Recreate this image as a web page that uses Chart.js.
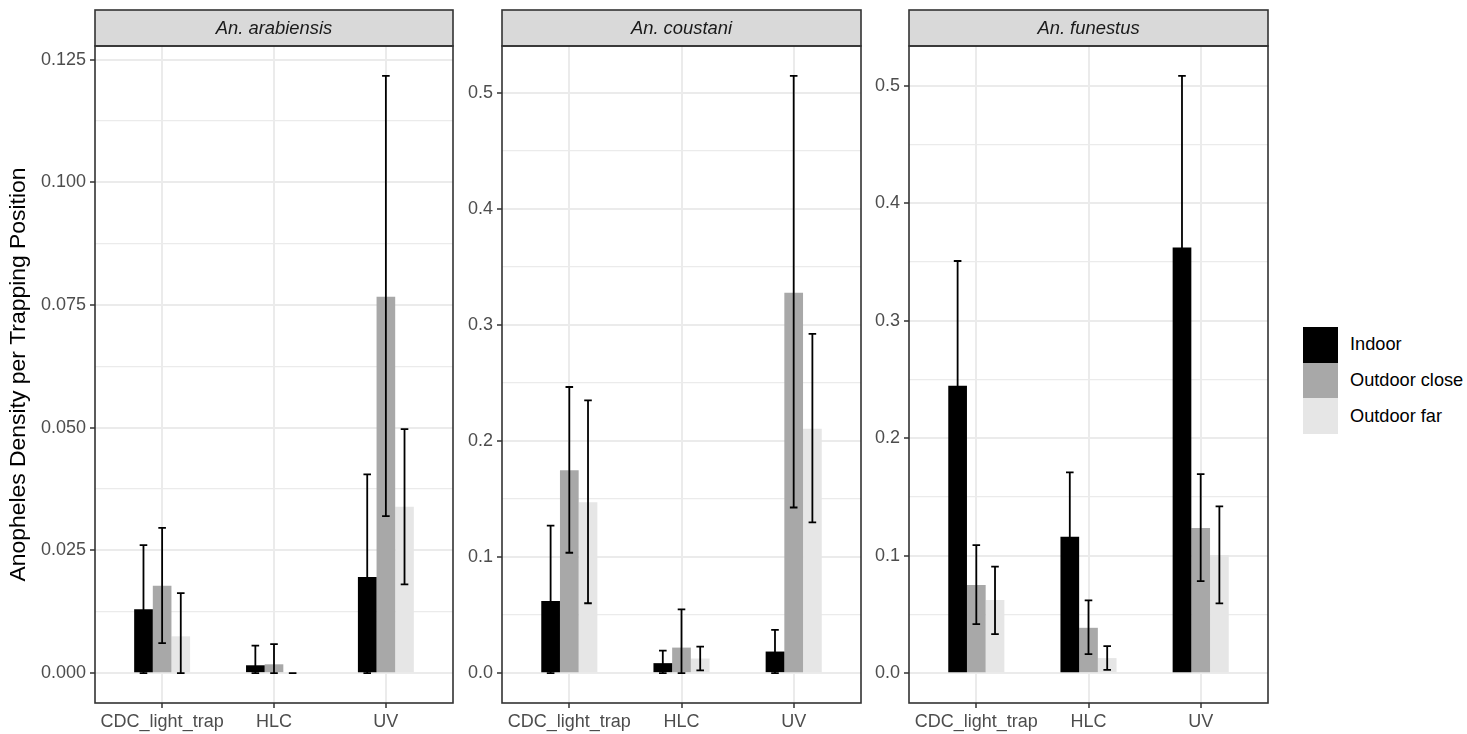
<!DOCTYPE html>
<html><head><meta charset="utf-8">
<script src="https://cdn.jsdelivr.net/npm/chart.js@4.4.0/dist/chart.umd.min.js"></script>
<style>
html,body{margin:0;padding:0;background:#fff;width:1467px;height:734px;overflow:hidden;}
canvas{position:absolute;top:0;}
#legend{position:absolute;left:1303px;top:327px;font-family:'Liberation Sans',Arial,sans-serif;font-size:18.2px;color:#000;}
.item{display:flex;align-items:center;height:35.7px;}
.key{width:35px;height:35.7px;margin-right:12px;}
</style></head>
<body>
<canvas id="c1" width="462" height="734" style="left:0px"></canvas>
<canvas id="c2" width="404" height="734" style="left:462px"></canvas>
<canvas id="c3" width="410" height="734" style="left:866px"></canvas>
<div id="legend"></div>
<script>
const categories = ['CDC_light_trap', 'HLC', 'UV'];
const seriesNames = ['Indoor', 'Outdoor close', 'Outdoor far'];
const seriesColors = ['#000000', '#A8A8A8', '#E6E6E6'];
const species = ['An. arabiensis', 'An. coustani', 'An. funestus'];
const yTitle = 'Anopheles Density per Trapping Position';

// An. arabiensis
const arabIndoor   = [0.0130, 0.0016, 0.0196];
const arabIndoorLo = [0.0000, 0.0000, 0.0000];
const arabIndoorHi = [0.0261, 0.0056, 0.0405];
const arabClose    = [0.0178, 0.0018, 0.0767];
const arabCloseLo  = [0.0061, 0.0000, 0.0320];
const arabCloseHi  = [0.0296, 0.0059, 0.1217];
const arabFar      = [0.0075, 0.0000, 0.0339];
const arabFarLo    = [0.0000, 0.0000, 0.0181];
const arabFarHi    = [0.0163, 0.0000, 0.0497];

// An. coustani
const cousIndoor   = [0.0622, 0.0086, 0.0186];
const cousIndoorLo = [0.0000, 0.0000, 0.0000];
const cousIndoorHi = [0.1270, 0.0194, 0.0372];
const cousClose    = [0.1748, 0.0220, 0.3276];
const cousCloseLo  = [0.1037, 0.0000, 0.1427];
const cousCloseHi  = [0.2465, 0.0550, 0.5145];
const cousFar      = [0.1473, 0.0126, 0.2106];
const cousFarLo    = [0.0602, 0.0023, 0.1298];
const cousFarHi    = [0.2350, 0.0229, 0.2923];

// An. funestus
const funIndoor    = [0.2447, 0.1161, 0.3623];
const funIndoorLo  = [0.1385, 0.0612, 0.2152];
const funIndoorHi  = [0.3509, 0.1710, 0.5085];
const funClose     = [0.0750, 0.0386, 0.1235];
const funCloseLo   = [0.0417, 0.0162, 0.0784];
const funCloseHi   = [0.1090, 0.0619, 0.1695];
const funFar       = [0.0622, 0.0128, 0.1005];
const funFarLo     = [0.0332, 0.0028, 0.0594];
const funFarHi     = [0.0906, 0.0230, 0.1420];

const yTicksArab  = [0, 0.025, 0.05, 0.075, 0.1, 0.125];
const yLabelsArab = ['0.000', '0.025', '0.050', '0.075', '0.100', '0.125'];
const yTicksOther  = [0, 0.1, 0.2, 0.3, 0.4, 0.5];
const yLabelsOther = ['0.0', '0.1', '0.2', '0.3', '0.4', '0.5'];

const FONT = "'Liberation Sans', Arial, sans-serif";
Chart.defaults.font.family = FONT;

const panels = [
  {id:'c1', yWidth:95, padRight:9, name:species[0], title:true,
   means:[arabIndoor, arabClose, arabFar], lows:[arabIndoorLo, arabCloseLo, arabFarLo], highs:[arabIndoorHi, arabCloseHi, arabFarHi],
   ticks:yTicksArab, labels:yLabelsArab},
  {id:'c2', yWidth:40, padRight:5, name:species[1], title:false,
   means:[cousIndoor, cousClose, cousFar], lows:[cousIndoorLo, cousCloseLo, cousFarLo], highs:[cousIndoorHi, cousCloseHi, cousFarHi],
   ticks:yTicksOther, labels:yLabelsOther},
  {id:'c3', yWidth:43, padRight:8, name:species[2], title:false,
   means:[funIndoor, funClose, funFar], lows:[funIndoorLo, funCloseLo, funFarLo], highs:[funIndoorHi, funCloseHi, funFarHi],
   ticks:yTicksOther, labels:yLabelsOther}
];

const decoPlugin = {
  id: 'panelDeco',
  afterDatasetsDraw(chart) {
    const ctx = chart.ctx, ys = chart.scales.y;
    ctx.save();
    ctx.strokeStyle = '#000';
    ctx.lineWidth = 1.8;
    const cap = 3.8;
    chart.data.datasets.forEach((ds, di) => {
      const meta = chart.getDatasetMeta(di);
      meta.data.forEach((el, j) => {
        const x = el.x;
        const yl = ys.getPixelForValue(ds.errLo[j]);
        const yh = ys.getPixelForValue(ds.errHi[j]);
        ctx.beginPath();
        ctx.moveTo(x, yl); ctx.lineTo(x, yh);
        ctx.moveTo(x - cap, yl); ctx.lineTo(x + cap, yl);
        ctx.moveTo(x - cap, yh); ctx.lineTo(x + cap, yh);
        ctx.stroke();
      });
    });
    ctx.restore();
  },
  afterDraw(chart, args, opts) {
    const ctx = chart.ctx, a = chart.chartArea;
    ctx.save();
    ctx.fillStyle = '#D9D9D9';
    ctx.fillRect(a.left, 10, a.right - a.left, a.top - 10);
    ctx.strokeStyle = '#333333';
    ctx.lineWidth = 1.6;
    ctx.strokeRect(a.left, 10, a.right - a.left, a.top - 10);
    ctx.fillStyle = '#1A1A1A';
    ctx.font = 'italic 18.4px ' + FONT;
    ctx.textAlign = 'center';
    ctx.textBaseline = 'middle';
    ctx.fillText(opts.name, (a.left + a.right) / 2, (10 + a.top) / 2 + 1);
    ctx.strokeRect(a.left, a.top, a.right - a.left, a.bottom - a.top);
    ctx.restore();
  }
};

function makeChart(p) {
  const hi = Math.max(...p.highs.flat(), ...p.means.flat());
  const lo = Math.min(0, ...p.lows.flat());
  const pad = (hi - lo) * 0.05;
  const ymin = lo - pad, ymax = hi + pad;
  const step = p.ticks[1] - p.ticks[0];
  const allTicks = p.ticks.map(v => ({value: v, minor: false}));
  for (let i = -1; i < p.ticks.length; i++) {
    const v = p.ticks[0] + step * (i + 0.5);
    if (v > ymin && v < ymax) allTicks.push({value: v, minor: true});
  }
  allTicks.sort((a, b) => a.value - b.value);

  const datasets = seriesNames.map((n, si) => ({
    label: n,
    data: categories.map((c, ci) => ({x: ci + 1, y: p.means[si][ci]})),
    backgroundColor: seriesColors[si],
    borderWidth: 0,
    categoryPercentage: 0.5,
    barPercentage: 1.0,
    errLo: p.lows[si],
    errHi: p.highs[si]
  }));

  new Chart(document.getElementById(p.id), {
    type: 'bar',
    data: {datasets},
    options: {
      responsive: false,
      animation: false,
      devicePixelRatio: 1,
      layout: {padding: {top: 46, right: p.padRight, left: 0, bottom: 0}},
      plugins: {legend: {display: false}, tooltip: {enabled: false}, panelDeco: {name: p.name}},
      scales: {
        x: {
          type: 'linear', min: 0.4, max: 3.6, offset: false,
          afterBuildTicks: s => { s.ticks = categories.map((c, i) => ({value: i + 1})); },
          afterFit: s => { s.height = 31; },
          border: {display: false},
          grid: {offset: false, color: '#EBEBEB', lineWidth: 2, tickColor: '#333333', tickWidth: 1.5, tickLength: 5},
          ticks: {callback: v => categories[Math.round(v) - 1], color: '#4D4D4D', font: {size: 18}, padding: 3, maxRotation: 0, autoSkip: false}
        },
        y: {
          type: 'linear', min: ymin, max: ymax,
          afterBuildTicks: s => { s.ticks = allTicks.map(t => ({value: t.value, minor: t.minor})); },
          afterFit: s => { s.width = p.yWidth; },
          border: {display: false},
          grid: {
            color: '#EBEBEB',
            lineWidth: c => (c.tick && c.tick.minor) ? 1.2 : 2,
            tickColor: c => (c.tick && c.tick.minor) ? 'rgba(0,0,0,0)' : '#333333',
            tickWidth: 1.5, tickLength: 5
          },
          ticks: {
            autoSkip: false, color: '#4D4D4D', font: {size: 18}, padding: 4,
            callback: (v, i, t) => {
              if (t[i].minor) return '';
              const k = p.ticks.findIndex(x => Math.abs(x - v) < 1e-9);
              return k >= 0 ? p.labels[k] : '';
            }
          },
          title: {display: p.title, text: yTitle, color: '#000', font: {size: 22.9}, padding: {top: 5, bottom: 0}}
        }
      }
    },
    plugins: [decoPlugin]
  });
}
panels.forEach(makeChart);

const leg = document.getElementById('legend');
seriesNames.forEach((n, i) => {
  const it = document.createElement('div'); it.className = 'item';
  const k = document.createElement('div'); k.className = 'key'; k.style.background = seriesColors[i];
  const t = document.createElement('span'); t.textContent = n;
  it.appendChild(k); it.appendChild(t); leg.appendChild(it);
});
</script>
</body></html>
